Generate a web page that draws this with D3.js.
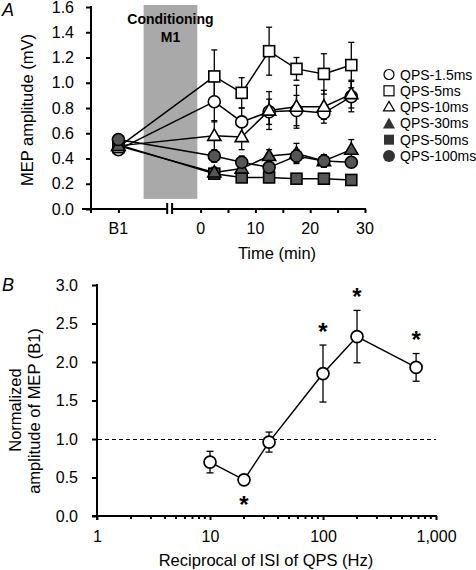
<!DOCTYPE html>
<html>
<head>
<meta charset="utf-8">
<script src="https://cdn.jsdelivr.net/npm/d3@7"></script>
<style>
  body { margin: 0; background: #fff; }
  svg { display: block; font-family: "Liberation Sans", Arial, sans-serif; }
  .axis path, .axis line { stroke: #000; stroke-width: 2; }
  .axis text { font-size: 16px; fill: #000; }
</style>
</head>
<body>
<svg id="chart" width="476" height="570"></svg>
<script>
// ---------- Panel A data ----------
const timesA = [2.5, 7.5, 12.5, 17.5, 22.5, 27.5];   // min after conditioning
const seriesNamesA = ["QPS-1.5ms", "QPS-5ms", "QPS-10ms", "QPS-30ms", "QPS-50ms", "QPS-100ms"];
const baselineA = [0.47, 0.49, 0.50, 0.50, 0.51, 0.55];       // B1 values (mV)
const mep15  = [0.85, 0.69, 0.77, 0.78, 0.76, 0.89];
const mep5   = [1.05, 0.92, 1.25, 1.11, 1.07, 1.14];
const mep10  = [0.58, 0.57, 0.78, 0.81, 0.81, 0.91];
const mep30  = [0.29, 0.32, 0.42, 0.44, 0.38, 0.47];
const mep50  = [0.28, 0.25, 0.25, 0.24, 0.24, 0.23];
const mep100 = [0.42, 0.37, 0.33, 0.42, 0.38, 0.37];
const se15  = [0.16, 0.11, 0.10, 0.12, 0.05, 0.12];
const se5   = [0.21, 0.12, 0.19, 0.09, 0.16, 0.18];
const se10  = [0.12, 0.10, 0.15, 0.17, 0.13, 0.11];
const se30  = [0.04, 0.04, 0.05, 0.08, 0.05, 0.08];
const se50  = [0.03, 0.03, 0.04, 0.03, 0.03, 0.03];
const se100 = [0.05, 0.05, 0.06, 0.05, 0.05, 0.04];
const yTicksA = [0, 0.2, 0.4, 0.6, 0.8, 1.0, 1.2, 1.4, 1.6];
const xTicksA = [0, 10, 20, 30];
const xTickLabelsA = ["0", "10", "20", "30"];
const xMinorA = [5, 15, 25];
const b1Label = "B1";

// ---------- Panel B data ----------
const freqB = [10, 20, 33.3, 100, 200, 666.7];   // Hz (1/ISI)
const normB = [0.70, 0.47, 0.96, 1.85, 2.33, 1.93];
const seB   = [0.14, 0.05, 0.13, 0.37, 0.34, 0.18];
const sigB  = ["", "below", "", "above", "above", "above"];
const yTicksB = [0, 0.5, 1.0, 1.5, 2.0, 2.5, 3.0];
const xTicksB = [1, 10, 100, 1000];
const xTickLabelsB = ["1", "10", "100", "1,000"];

// ---------- styles ----------
const dark = "#555555";
const styles = [
  {shape: "circle",   fill: "#fff"},
  {shape: "square",   fill: "#fff"},
  {shape: "triangle", fill: "#fff"},
  {shape: "triangle", fill: dark},
  {shape: "square",   fill: dark},
  {shape: "circle",   fill: dark}
];
const valuesA = [mep15, mep5, mep10, mep30, mep50, mep100];
const errorsA = [se15, se5, se10, se30, se50, se100];

const svg = d3.select("#chart");

function marker(g, shape, x, y, size, fill, sw) {
  sw = sw || 1.6;
  if (shape === "circle") {
    g.append("circle").attr("cx", x).attr("cy", y).attr("r", size / 2)
      .attr("fill", fill).attr("stroke", "#000").attr("stroke-width", sw);
  } else if (shape === "square") {
    g.append("rect").attr("x", x - size / 2).attr("y", y - size / 2)
      .attr("width", size).attr("height", size)
      .attr("fill", fill).attr("stroke", "#000").attr("stroke-width", sw);
  } else {
    const h = size * 0.95, w = size * 1.1;
    g.append("path")
      .attr("d", `M${x},${y - h * 0.6}L${x + w / 2},${y + h * 0.4}L${x - w / 2},${y + h * 0.4}Z`)
      .attr("fill", fill).attr("stroke", "#000").attr("stroke-width", sw)
      .attr("stroke-linejoin", "miter");
  }
}

// ================= PANEL A =================
const xA = d3.scaleLinear().domain([-20, 30]).range([91, 365]);
const yA = d3.scaleLinear().domain([0, 1.6]).range([209, 7]);
const b1T = -15;

// conditioning box
svg.append("rect")
  .attr("x", xA(-10.4)).attr("y", 5)
  .attr("width", xA(-0.6) - xA(-10.4)).attr("height", yA(0.08) - 5)
  .attr("fill", "#a9a9a9");
svg.append("text").attr("x", xA(-5.5)).attr("y", 23.5).attr("text-anchor", "middle")
  .attr("font-weight", "bold").attr("font-size", 14).text("Conditioning");
svg.append("text").attr("x", xA(-5.5)).attr("y", 41.5).attr("text-anchor", "middle")
  .attr("font-weight", "bold").attr("font-size", 14).text("M1");

// y axis A
const yAxA = svg.append("g").attr("class", "axis").attr("transform", `translate(${xA(-20)},0)`)
  .call(d3.axisLeft(yA).tickValues(yTicksA).tickFormat(d3.format(".1f")).tickSize(5).tickPadding(12).tickSizeOuter(0));
yAxA.select(".domain").remove();
yAxA.append("line").attr("x1", 0).attr("x2", 0).attr("y1", yA(1.6) - 1).attr("y2", yA(0) + 4);

// x axis A (ticks via axis, labels drawn at the end)
const xAxA = svg.append("g").attr("class", "axis").attr("transform", `translate(0,${yA(0)})`)
  .call(d3.axisBottom(xA).tickValues([b1T].concat(xTicksA, xMinorA))
    .tickFormat("").tickSize(4).tickSizeOuter(0));
xAxA.select(".domain").remove();
xAxA.append("line").attr("x1", xA(-20) - 9).attr("x2", xA(-6.1)).attr("y1", 0).attr("y2", 0);
xAxA.append("line").attr("x1", xA(-5.2)).attr("x2", xA(30) + 1).attr("y1", 0).attr("y2", 0);
[-6.1, -5.2].forEach(t => {
  xAxA.append("line").attr("x1", xA(t)).attr("x2", xA(t)).attr("y1", -6).attr("y2", 5).attr("stroke-width", 1.6);
});

svg.append("text").attr("transform", `translate(33,${(yA(0) + yA(1.6)) / 2 + 2}) rotate(-90)`)
  .attr("text-anchor", "middle").attr("font-size", 16.5).text("MEP amplitude (mV)");
svg.append("text").attr("x", 277).attr("y", 259).attr("text-anchor", "middle")
  .attr("font-size", 16.5).text("Time (min)");
svg.append("text").attr("x", 2).attr("y", 16).attr("font-style", "italic")
  .attr("font-size", 18).text("A");

// data lines, error bars, markers
const gLines = svg.append("g"), gErr = svg.append("g"), gMark = svg.append("g");
const lineA = d3.line().x(d => xA(d[0])).y(d => yA(d[1]));
valuesA.forEach((vals, i) => {
  const pts = [[b1T, baselineA[i]]].concat(timesA.map((t, j) => [t, vals[j]]));
  gLines.append("path").attr("d", lineA(pts)).attr("fill", "none")
    .attr("stroke", "#000").attr("stroke-width", 1.5);
  timesA.forEach((t, j) => {
    const x = xA(t), y1 = yA(vals[j] + errorsA[i][j]), y2 = yA(vals[j] - errorsA[i][j]);
    gErr.append("line").attr("x1", x).attr("x2", x).attr("y1", y1).attr("y2", y2)
      .attr("stroke", "#000").attr("stroke-width", 1.3);
    [y1, y2].forEach(y => gErr.append("line").attr("x1", x - 3).attr("x2", x + 3)
      .attr("y1", y).attr("y2", y).attr("stroke", "#000").attr("stroke-width", 1.3));
  });
});
[0, 1, 2, 4, 3, 5].forEach(i => {
  const st = styles[i];
  const size = st.shape === "circle" ? 12 : (st.shape === "square" ? 11 : 12);
  marker(gMark, st.shape, xA(b1T), yA(baselineA[i]), size, st.fill);
  timesA.forEach((t, j) => marker(gMark, st.shape, xA(t), yA(valuesA[i][j]), size, st.fill));
});

// legend
const gLeg = svg.append("g");
seriesNamesA.forEach((name, i) => {
  const y = 74.5 + i * 16.3;
  const st = styles[i];
  if (st.fill === "#fff") {
    marker(gLeg, st.shape, 389, y, 10, st.fill, 1.2);
  } else {
    if (st.shape === "circle") gLeg.append("circle").attr("cx", 389).attr("cy", y).attr("r", 6).attr("fill", "#333");
    else if (st.shape === "square") gLeg.append("rect").attr("x", 384).attr("y", y - 5).attr("width", 10).attr("height", 10).attr("fill", "#333");
    else gLeg.append("path").attr("d", `M389,${y - 6}L395,${y + 5}L383,${y + 5}Z`).attr("fill", "#333");
  }
  gLeg.append("text").attr("x", 400).attr("y", y + 5).attr("font-size", 14).text(name);
});

// ================= PANEL B =================
const xB = d3.scaleLog().domain([1, 1000]).range([97, 436]);
const yB = d3.scaleLinear().domain([0, 3]).range([516, 285]);

const yAxB = svg.append("g").attr("class", "axis").attr("transform", `translate(${xB(1)},0)`)
  .call(d3.axisLeft(yB).tickValues(yTicksB).tickFormat(d3.format(".1f")).tickSize(5).tickPadding(14).tickSizeOuter(0));
yAxB.select(".domain").remove();
yAxB.append("line").attr("x1", 0).attr("x2", 0).attr("y1", yB(3) - 1).attr("y2", yB(0) + 4);

const minorB = [];
[1, 10, 100].forEach(dec => { for (let k = 2; k <= 9; k++) minorB.push(dec * k); });
const xAxB = svg.append("g").attr("class", "axis").attr("transform", `translate(0,${yB(0)})`)
  .call(d3.axisBottom(xB).tickValues(xTicksB).tickFormat((d, i) => xTickLabelsB[i]).tickSize(4).tickPadding(11).tickSizeOuter(0));
xAxB.select(".domain").remove();
xAxB.append("line").attr("x1", xB(1) - 5).attr("x2", xB(1000) + 1).attr("y1", 0).attr("y2", 0);
minorB.forEach(f => {
  xAxB.append("line").attr("x1", xB(f)).attr("x2", xB(f)).attr("y1", 0).attr("y2", 3).attr("stroke-width", 1.5);
});

// dashed reference line at 1.0
const yRef = Math.round(yB(1)) + 0.5;
svg.append("line").attr("x1", xB(1) + 1).attr("x2", xB(1000)).attr("y1", yRef).attr("y2", yRef)
  .attr("stroke", "#000").attr("stroke-width", 1).attr("stroke-dasharray", "4,3");

const ptsB = freqB.map((f, i) => [f, normB[i]]);
svg.append("path").attr("d", d3.line().x(d => xB(d[0])).y(d => yB(d[1]))(ptsB))
  .attr("fill", "none").attr("stroke", "#000").attr("stroke-width", 1.5);
freqB.forEach((f, i) => {
  const x = xB(f), y1 = yB(normB[i] + seB[i]), y2 = yB(normB[i] - seB[i]);
  svg.append("line").attr("x1", x).attr("x2", x).attr("y1", y1).attr("y2", y2)
    .attr("stroke", "#000").attr("stroke-width", 1.3);
  [y1, y2].forEach(y => svg.append("line").attr("x1", x - 3.5).attr("x2", x + 3.5)
    .attr("y1", y).attr("y2", y).attr("stroke", "#000").attr("stroke-width", 1.3));
});
freqB.forEach((f, i) => {
  svg.append("circle").attr("cx", xB(f)).attr("cy", yB(normB[i])).attr("r", 6)
    .attr("fill", "#fff").attr("stroke", "#000").attr("stroke-width", 1.7);
});
const astFs = 24;
freqB.forEach((f, i) => {
  if (!sigB[i]) return;
  const cy = sigB[i] === "above" ? yB(normB[i] + seB[i]) - 19 : yB(normB[i]) + 19;
  svg.append("text").attr("x", xB(f)).attr("y", cy + 0.575 * astFs).attr("text-anchor", "middle")
    .attr("font-size", astFs).attr("font-weight", "bold").text("*");
});

svg.append("text").attr("transform", `translate(21,410) rotate(-90)`)
  .attr("text-anchor", "middle").attr("font-size", 16.5).text("Normalized");
svg.append("text").attr("transform", `translate(40,411) rotate(-90)`)
  .attr("text-anchor", "middle").attr("font-size", 16.5).text("amplitude of MEP (B1)");
svg.append("text").attr("x", 266).attr("y", 566).attr("text-anchor", "middle")
  .attr("font-size", 16.5).text("Reciprocal of ISI of QPS (Hz)");
svg.append("text").attr("x", 2).attr("y", 291).attr("font-style", "italic")
  .attr("font-size", 18).text("B");

// x tick labels of panel A, drawn last so nothing covers them
const xLabA = [{v: b1T, s: b1Label}].concat(xTicksA.map((v, i) => ({v: v, s: xTickLabelsA[i]})));
svg.append("g").selectAll("text").data(xLabA).join("text")
  .attr("x", d => xA(d.v)).attr("y", yA(0) + 24.5)
  .attr("text-anchor", "middle").attr("font-size", 16).attr("fill", "#000")
  .text(d => d.s);
</script>
</body>
</html>
